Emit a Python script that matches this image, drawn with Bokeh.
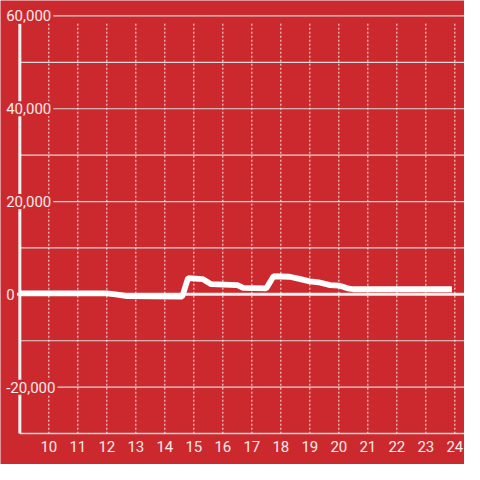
from bokeh.plotting import figure
from bokeh.models import Range1d, ColumnDataSource
from bokeh.core.properties import value
from bokeh.embed import file_html
from bokeh.resources import INLINE

# ---- data ----
hours = [9.0, 12.0, 12.3, 12.7, 14.6, 14.8, 15.3, 15.6, 16.5, 16.7, 17.5,
         17.75, 18.3, 18.6, 19.0, 19.3, 19.7, 20.0, 20.3, 20.5, 23.9]
values = [200, 200, 0, -400, -500, 3500, 3300, 2200, 2000, 1400, 1300,
          3900, 3800, 3400, 2800, 2600, 2000, 1900, 1300, 1100, 1100]

x_ticks = list(range(10, 25))
x_tick_labels = [str(t) for t in x_ticks]
y_grid_ticks = [60000, 50000, 40000, 30000, 20000, 10000, -10000, -20000]
y_label_ticks = [60000, 40000, 20000, 0, -20000]
y_tick_labels = ["60,000", "40,000", "20,000", "0", "-20,000"]

RED = "#cc292e"
TXT = "#f5eaea"
W = 464
s = W / 480.0

X0, X1 = 8.3333, 24.3333
Y0, Y1 = -36667, 63333
AX_X = 9.0
Y_TOP = 58333
Y_BOT = -30000

p = figure(width=W, height=W, x_range=Range1d(X0, X1), y_range=Range1d(Y0, Y1),
           min_border=0, toolbar_location=None, output_backend="svg",
           x_axis_type=None, y_axis_type=None,
           background_fill_color=RED, border_fill_color=RED,
           outline_line_color=None)
p.xgrid.visible = False
p.ygrid.visible = False

# horizontal grid lines
p.segment(x0=[AX_X] * len(y_grid_ticks), y0=y_grid_ticks,
          x1=[X1] * len(y_grid_ticks), y1=y_grid_ticks,
          line_color="#d8d8d8", line_width=1.2)
# vertical dotted grid lines
p.segment(x0=x_ticks, y0=[Y_TOP] * len(x_ticks), x1=x_ticks, y1=[Y_BOT] * len(x_ticks),
          line_color="#f4f4f4", line_width=1, line_dash="2 2")
# bottom line
p.segment(x0=[AX_X], y0=[Y_BOT], x1=[X1], y1=[Y_BOT], line_color="#d8d8d8", line_width=1.5)
# left axis line
p.segment(x0=[AX_X], y0=[Y_TOP], x1=[AX_X], y1=[Y_BOT], line_color="#f2f2f2", line_width=3)
# zero line
p.segment(x0=[AX_X - 0.1], y0=[0], x1=[X1], y1=[0], line_color="#f2f2f2", line_width=3)

# data line
p.line(hours, values, line_color="white", line_width=6 * s, line_cap="butt")

# y labels
ysrc = ColumnDataSource(dict(x=[8.46] * len(y_label_ticks), y=y_label_ticks, t=y_tick_labels))
p.text(x="x", y="y", text="t", source=ysrc, text_font=value("Roboto"),
       text_font_size="15px", text_color=TXT,
       text_align="left", text_baseline="middle",
       background_fill_color=RED, padding=2)

# x labels
xsrc = ColumnDataSource(dict(x=x_ticks, y=[-32700] * len(x_ticks), t=x_tick_labels))
p.text(x="x", y="y", text="t", source=xsrc, text_font=value("Roboto"),
       text_font_size="15px", text_color=TXT,
       text_align="center", text_baseline="middle")

open("out.html", "w").write(file_html(p, INLINE))
